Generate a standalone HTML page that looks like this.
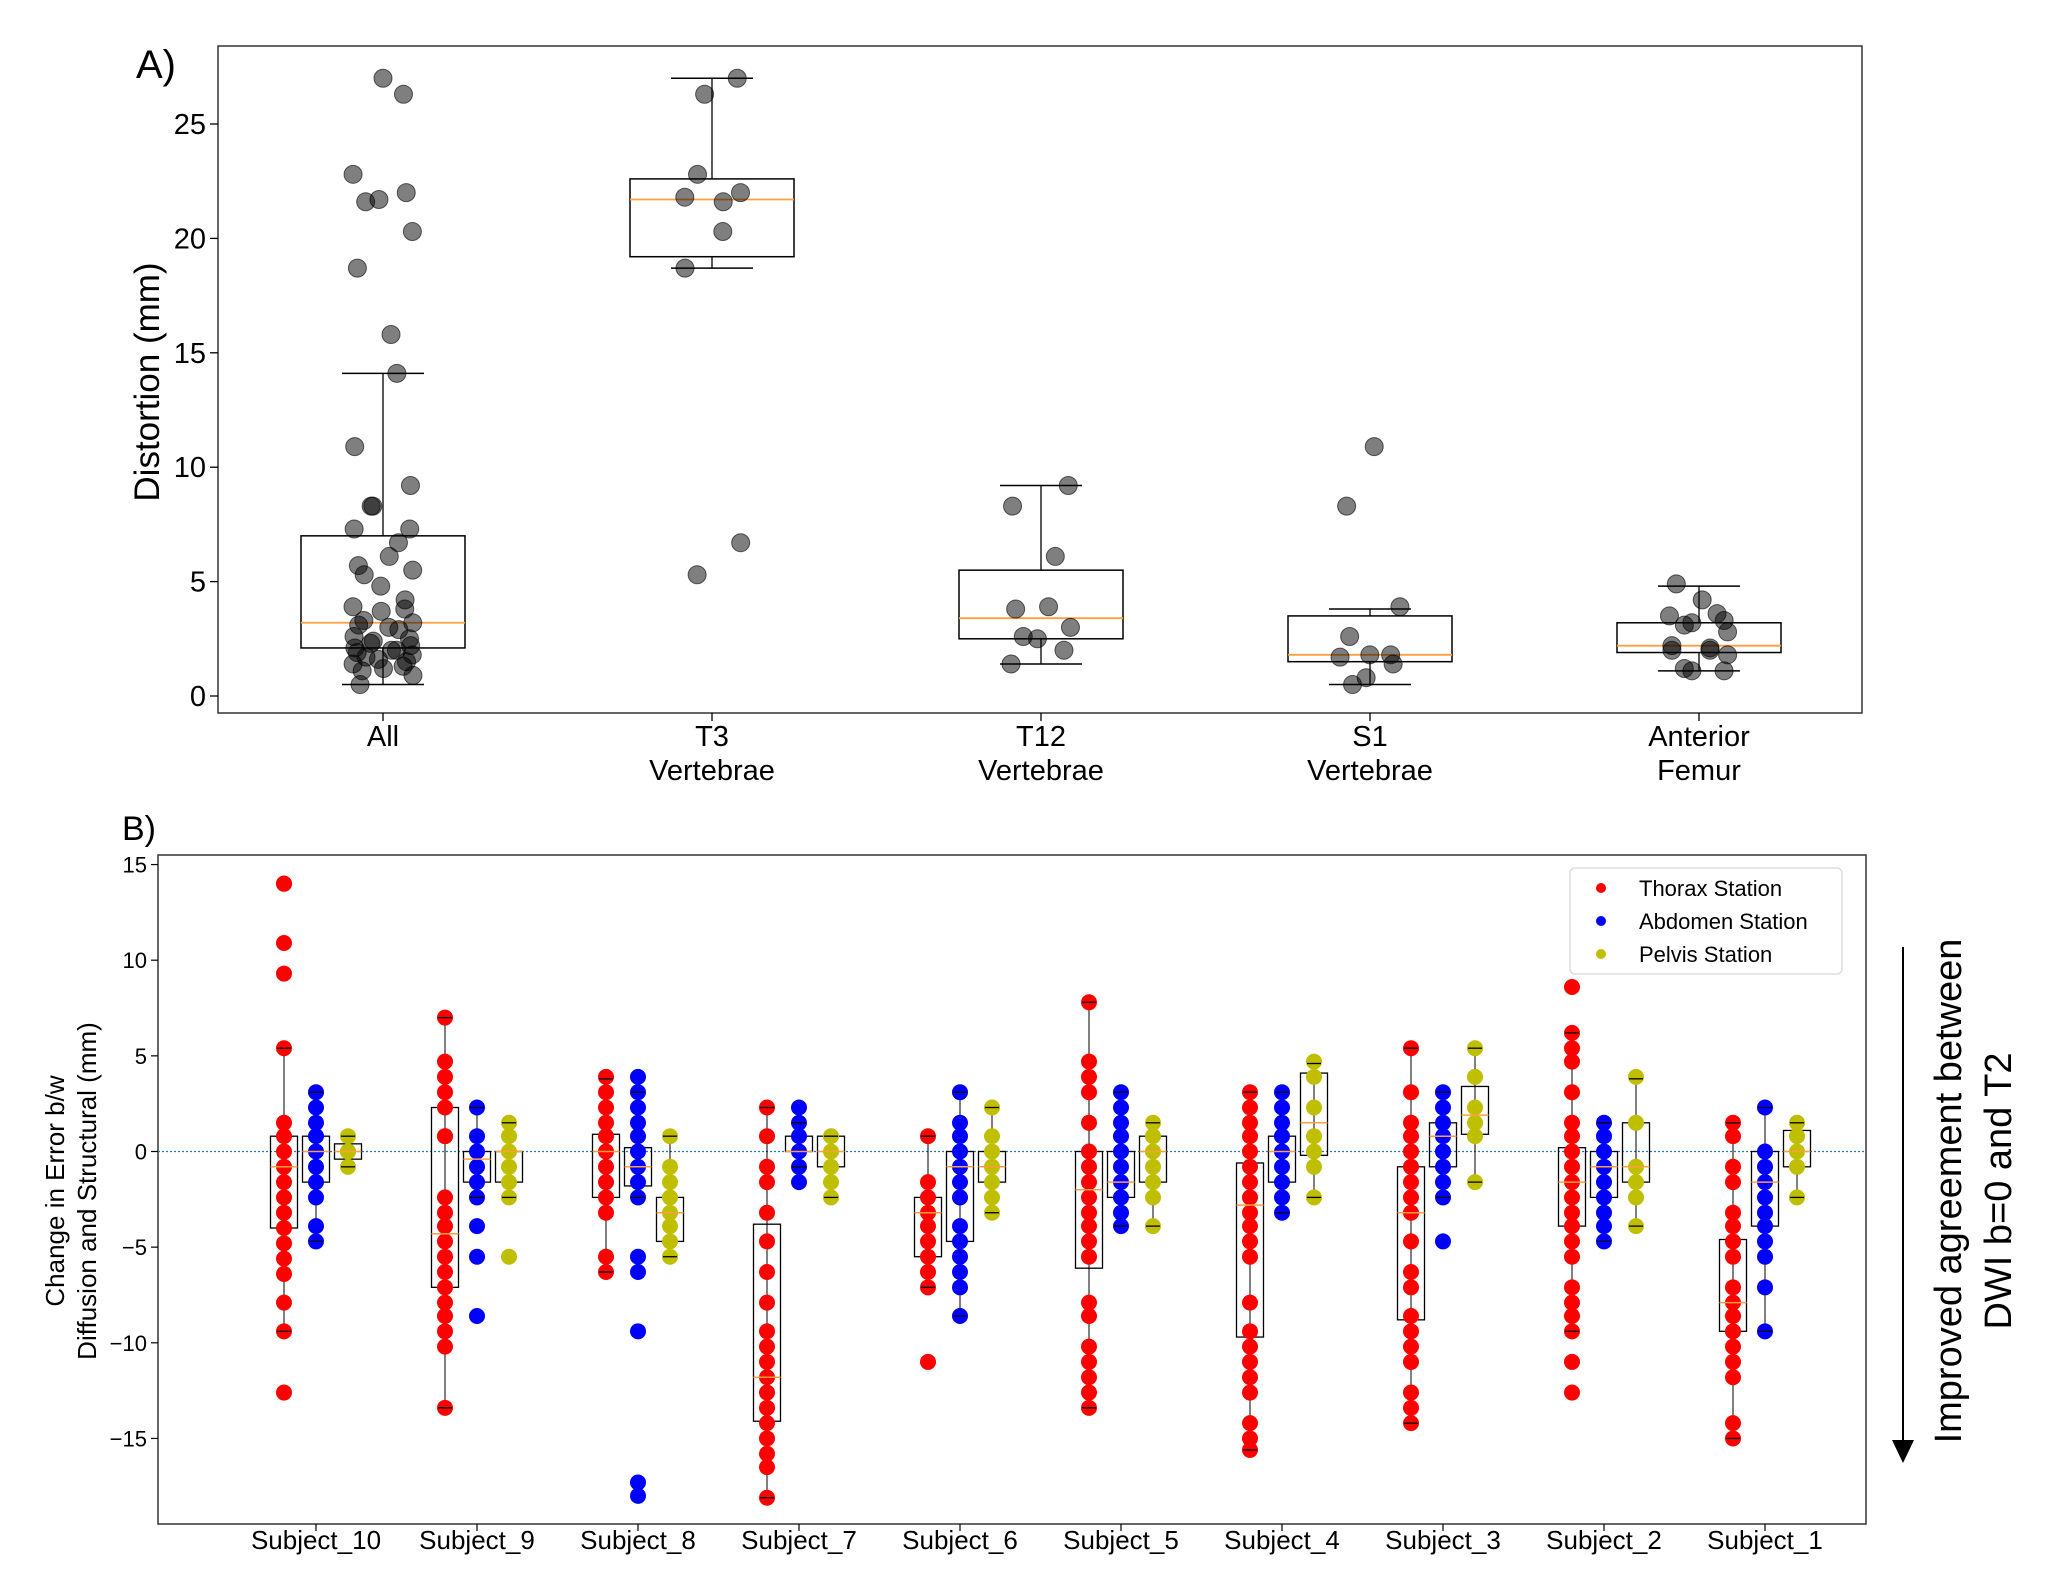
<!DOCTYPE html>
<html><head><meta charset="utf-8"><style>
html,body{margin:0;padding:0;background:#fff}
svg{display:block;font-family:"Liberation Sans","DejaVu Sans",sans-serif}
</style></head><body>
<svg id="fig" width="2062" height="1570" viewBox="0 0 2062 1570" xmlns="http://www.w3.org/2000/svg">
<g id="pa"></g>
<g id="pb"></g>
</svg>
<script>
// ---------- Panel A data ----------
const catsA = ["All","T3|Vertebrae","T12|Vertebrae","S1|Vertebrae","Anterior|Femur"];
const ticksA = [0,5,10,15,20,25];
const ptsAll = [27.0,26.3,22.8,22.0,21.7,21.6,20.3,18.7,15.8,14.1,10.9,9.2,8.3,8.3,7.3,7.3,6.7,6.1,5.7,5.5,5.3,4.8,4.2,3.9,3.8,3.7,3.3,3.2,3.1,3.0,2.9,2.6,2.5,2.4,2.3,2.2,2.1,2.0,2.0,1.9,1.8,1.7,1.6,1.5,1.4,1.3,1.2,1.1,0.9,0.5];
const ptsT3 = [27.0,26.3,22.8,22.0,21.8,21.6,20.3,18.7,6.7,5.3];
const ptsT12 = [9.2,8.3,6.1,3.9,3.8,3.0,2.6,2.5,2.0,1.4];
const ptsS1 = [10.9,8.3,3.9,2.6,1.8,1.8,1.7,1.4,0.8,0.5];
const ptsFemur = [4.9,4.2,3.6,3.5,3.3,3.2,3.1,2.8,2.2,2.1,2.0,2.0,1.8,1.2,1.1,1.1];
const boxAq1 = [2.1,19.2,2.5,1.5,1.9];
const boxAmed = [3.2,21.7,3.4,1.8,2.2];
const boxAq3 = [7.0,22.6,5.5,3.5,3.2];
const boxAlo = [0.5,18.7,1.4,0.5,1.1];
const boxAhi = [14.1,27.0,9.2,3.8,4.8];

// ---------- Panel B data ----------
const subjects = ["Subject_10","Subject_9","Subject_8","Subject_7","Subject_6","Subject_5","Subject_4","Subject_3","Subject_2","Subject_1"];
const stations = ["Thorax Station","Abdomen Station","Pelvis Station"];
const ticksB = [15,10,5,0,-5,-10,-15];
const thoraxPts = [
[14,14,10.9,9.3,5.4,1.5,0.8,0,-0.8,-1.6,-2.4,-3.2,-4,-4.8,-5.6,-6.4,-7.9,-9.4,-12.6],
[7,4.7,3.9,3.1,2.3,0.8,0.8,-2.4,-3.2,-3.9,-4.7,-5.5,-6.3,-7.1,-7.9,-8.6,-9.4,-10.2,-13.4],
[3.9,3.1,2.3,1.5,0.8,0,-0.8,-1.6,-2.4,-3.2,-5.5,-6.3],
[2.3,0.8,-0.8,-1.6,-3.2,-4.7,-6.3,-7.9,-9.4,-10.2,-11,-11.8,-12.6,-13.4,-14.2,-15,-15.8,-16.5,-18.1],
[0.8,-1.6,-2.4,-3.2,-3.9,-4.7,-5.5,-6.3,-7.1,-11],
[7.8,4.7,3.9,3.1,1.5,0,-0.8,-1.6,-2.4,-3.2,-3.9,-4.7,-5.5,-7.9,-8.6,-10.2,-11,-11.8,-12.6,-13.4],
[3.1,2.3,1.5,0.8,0,-0.8,-1.6,-2.4,-3.2,-3.9,-4.7,-5.5,-7.9,-9.4,-10.2,-11,-11.8,-12.6,-14.2,-15,-15.6],
[5.4,3.1,1.5,0.8,0,-0.8,-1.6,-2.4,-3.2,-4.7,-6.3,-7.1,-8.6,-9.4,-10.2,-11,-12.6,-13.4,-14.2],
[8.6,6.2,5.4,4.7,3.1,1.5,0.8,0,-0.8,-1.6,-2.4,-3.2,-3.9,-4.7,-5.5,-7.1,-7.9,-8.6,-9.4,-11,-12.6],
[1.5,0.8,-0.8,-1.6,-3.2,-3.9,-4.7,-5.5,-7.1,-7.9,-8.6,-9.4,-10.2,-11,-11.8,-14.2,-15]];
const abdomenPts = [
[3.1,2.3,1.5,0.8,0,-0.8,-1.6,-2.4,-3.9,-4.7],
[2.3,0.8,0,-0.8,-1.6,-2.4,-3.9,-5.5,-8.6],
[3.9,3.1,2.3,1.5,0.8,0,-0.8,-1.6,-2.4,-5.5,-6.3,-9.4,-17.3,-18],
[2.3,1.5,0.8,0,-0.8,-1.6],
[3.1,1.5,0.8,0,-0.8,-1.6,-2.4,-3.9,-4.7,-5.5,-6.3,-7.1,-8.6],
[3.1,2.3,1.5,0.8,0,-0.8,-1.6,-2.4,-3.2,-3.9],
[3.1,2.3,1.5,0.8,0,-0.8,-1.6,-2.4,-3.2],
[3.1,2.3,1.5,0.8,0,-0.8,-1.6,-2.4,-4.7],
[1.5,0.8,0,-0.8,-1.6,-2.4,-3.2,-3.9,-4.7],
[2.3,0,-0.8,-1.6,-2.4,-3.2,-3.9,-4.7,-5.5,-7.1,-9.4]];
const pelvisPts = [
[0.8,0,0,-0.8],
[1.5,0.8,0,-0.8,-1.6,-2.4,-5.5],
[0.8,-0.8,-1.6,-2.4,-3.2,-3.9,-4.7,-5.5],
[0.8,0,-0.8,-1.6,-2.4],
[2.3,0.8,0,-0.8,-1.6,-2.4,-3.2],
[1.5,0.8,0,-0.8,-1.6,-2.4,-3.9],
[4.7,3.9,2.3,0.8,0,-0.8,-2.4],
[5.4,3.9,2.3,1.5,0.8,-1.6],
[3.9,1.5,-0.8,-1.6,-2.4,-3.9],
[1.5,0.8,0,-0.8,-2.4]];
// box stats [q1, median, q3, whiskerLow, whiskerHigh]
const thoraxBox = [[-4,-0.8,0.8,-9.4,5.4],[-7.1,-4.3,2.3,-13.4,7],[-2.4,0,0.9,-6.3,3.8],[-14.1,-11.8,-3.8,-18.1,2.3],[-5.5,-3.2,-2.4,-7.1,0.8],[-6.1,-2,0,-13.4,7.8],[-9.7,-2.8,-0.6,-15.6,3.1],[-8.8,-3.2,-0.8,-14.2,5.4],[-3.9,-1.6,0.2,-9.4,6.2],[-9.4,-7.9,-4.6,-15,1.5]];
const abdomenBox = [[-1.6,0,0.8,-4.7,3.1],[-1.6,-0.4,0,-2.4,2.3],[-1.8,-0.8,0.2,-2.4,3.1],[0,0,0.8,-0.8,1.5],[-4.7,-0.8,0,-8.6,3.1],[-2.4,-1.6,0,-3.9,3.1],[-1.6,0,0.8,-3.2,3.1],[-0.8,0.8,1.5,-2.4,3.1],[-2.4,-0.8,0,-4.7,1.5],[-3.9,-1.6,0,-9.4,2.3]];
const pelvisBox = [[-0.4,0,0.4,-0.8,0.8],[-1.6,0,0,-2.4,1.5],[-4.7,-3.2,-2.4,-5.5,0.8],[-0.8,0,0.8,-2.4,0.8],[-1.6,-0.8,0,-3.2,2.3],[-1.6,0,0.8,-3.9,1.5],[-0.2,1.5,4.1,-2.4,4.6],[0.9,1.9,3.4,-1.6,5.4],[-1.6,-0.8,1.5,-3.9,3.8],[-0.8,0,1.1,-2.4,1.5]];

const NS='http://www.w3.org/2000/svg';
function mk(parent, tag, attrs, text){
  const e=document.createElementNS(NS,tag);
  for(const k in attrs) e.setAttribute(k,attrs[k]);
  if(text!==undefined) e.textContent=text;
  parent.appendChild(e); return e;
}

// ---------- Panel A ----------
const pa=document.getElementById('pa');
const A={l:218,r:1862,t:46,b:713};
const yA=v=>696-v*22.88;
const xA=i=>383+i*329;
let f=mk(pa,'rect',{x:A.l,y:A.t,width:A.r-A.l,height:A.b-A.t,fill:'none',stroke:'#333','stroke-width':1.5});


ticksA.forEach(t=>{
  const g=mk(pa,'g',{});
  
  
  mk(g,'line',{x1:A.l-8,x2:A.l,y1:yA(t),y2:yA(t),stroke:'#000','stroke-width':1.3});
  mk(g,'text',{x:A.l-12,y:yA(t)+10,'text-anchor':'end','font-size':29},String(t));
});
catsA.forEach((c,i)=>{
  const g=mk(pa,'g',{});
  
  
  mk(g,'line',{x1:xA(i),x2:xA(i),y1:A.b,y2:A.b+8,stroke:'#000','stroke-width':1.3});
  c.split('|').forEach((s,j)=>mk(g,'text',{x:xA(i),y:746+j*34,'text-anchor':'middle','font-size':29},s));
});
const ptsA=[ptsAll,ptsT3,ptsT12,ptsS1,ptsFemur];
ptsA.forEach((arr,i)=>{
  const x=xA(i), bw=164;
  const g=mk(pa,'g',{});
  
  
  mk(g,'line',{x1:x,x2:x,y1:yA(boxAlo[i]),y2:yA(boxAq1[i]),stroke:'#000','stroke-width':1.3});
  mk(g,'line',{x1:x,x2:x,y1:yA(boxAq3[i]),y2:yA(boxAhi[i]),stroke:'#000','stroke-width':1.3});
  mk(g,'line',{x1:x-41,x2:x+41,y1:yA(boxAlo[i]),y2:yA(boxAlo[i]),stroke:'#000','stroke-width':1.5});
  mk(g,'line',{x1:x-41,x2:x+41,y1:yA(boxAhi[i]),y2:yA(boxAhi[i]),stroke:'#000','stroke-width':1.5});
  mk(g,'rect',{x:x-bw/2,y:yA(boxAq3[i]),width:bw,height:yA(boxAq1[i])-yA(boxAq3[i]),fill:'none',stroke:'#000','stroke-width':1.5});
  mk(g,'line',{x1:x-bw/2,x2:x+bw/2,y1:yA(boxAmed[i]),y2:yA(boxAmed[i]),stroke:'#ff9f40','stroke-width':1.8});
  arr.forEach((v,k)=>{
    const jit=Math.sin(k*2.39+i)*30;
    const c=mk(g,'circle',{cx:x+jit,cy:yA(v),r:9,fill:'rgba(0,0,0,0.5)',stroke:'rgba(0,0,0,0.6)','stroke-width':1});
    
    
  });
});
mk(pa,'text',{x:136,y:78,'font-size':40},'A)');
mk(pa,'text',{x:0,y:0,'font-size':35,'text-anchor':'middle',transform:'translate(159,382) rotate(-90)'},'Distortion (mm)');

// ---------- Panel B ----------
const pb=document.getElementById('pb');
const B={l:158,r:1866,t:855,b:1524};
const yB=v=>1151.5-v*19.13;
const xB=i=>316+i*161;
const cols=['#ff0000','#0000ff','#bfbf00'];
f=mk(pb,'rect',{x:B.l,y:B.t,width:B.r-B.l,height:B.b-B.t,fill:'none',stroke:'#333','stroke-width':1.5});


mk(pb,'line',{x1:B.l,x2:B.r,y1:yB(0),y2:yB(0),stroke:'#1f77b4','stroke-width':1.2,'stroke-dasharray':'2 2'});
ticksB.forEach(t=>{
  const g=mk(pb,'g',{});
  
  
  mk(g,'line',{x1:B.l-7,x2:B.l,y1:yB(t),y2:yB(t),stroke:'#000','stroke-width':1.2});
  mk(g,'text',{x:B.l-11,y:yB(t)+8,'text-anchor':'end','font-size':22},t<0?'\u2212'+(-t):String(t));
});
subjects.forEach((s,i)=>{
  const g=mk(pb,'g',{});
  
  
  mk(g,'line',{x1:xB(i),x2:xB(i),y1:B.b,y2:B.b+7,stroke:'#000','stroke-width':1.2});
  mk(g,'text',{x:xB(i),y:1549,'text-anchor':'middle','font-size':26},s);
});
const allPts=[thoraxPts,abdomenPts,pelvisPts];
const allBox=[thoraxBox,abdomenBox,pelvisBox];
subjects.forEach((s,i)=>{
  [0,1,2].forEach(st=>{
    const x=xB(i)+(st-1)*32, bw=27, b=allBox[st][i];
    const g=mk(pb,'g',{});
    
    
    mk(g,'line',{x1:x,x2:x,y1:yB(b[3]),y2:yB(b[4]),stroke:'#000','stroke-width':1});
    mk(g,'rect',{x:x-bw/2,y:yB(b[2]),width:bw,height:Math.max(1,yB(b[0])-yB(b[2])),fill:'none',stroke:'#000','stroke-width':1.3});
    allPts[st][i].forEach(v=>{
      const c=mk(g,'circle',{cx:x,cy:yB(v),r:8,fill:cols[st]});
      
      
    });
    mk(g,'line',{x1:x-bw/2,x2:x+bw/2,y1:yB(b[1]),y2:yB(b[1]),stroke:'#ff9f40','stroke-width':1.5});
    mk(g,'line',{x1:x-7,x2:x+7,y1:yB(b[3]),y2:yB(b[3]),stroke:'#000','stroke-width':1.3});
    mk(g,'line',{x1:x-7,x2:x+7,y1:yB(b[4]),y2:yB(b[4]),stroke:'#000','stroke-width':1.3});
  });
});
// legend
const lg=mk(pb,'g',{});


mk(lg,'rect',{x:1570,y:868,width:272,height:106,rx:5,fill:'#fff',stroke:'#ddd','stroke-width':1.5});
stations.forEach((n,k)=>{
  const e=mk(lg,'g',{});
  
  
  mk(e,'circle',{cx:1601,cy:888+k*33,r:5,fill:cols[k]});
  mk(e,'text',{x:1639,y:896+k*33,'font-size':22},n);
});
mk(pb,'text',{x:122,y:840,'font-size':34},'B)');
const yl=mk(pb,'text',{'font-size':26,'text-anchor':'middle',transform:'translate(64,1191) rotate(-90)'});
mk(yl,'tspan',{x:0,y:0},'Change in Error b/w');
mk(yl,'tspan',{x:0,y:32},'Diffusion and Structural (mm)');
// annotation arrow
const an=mk(pb,'g',{});


mk(an,'line',{x1:1903,x2:1903,y1:947,y2:1440,stroke:'#000','stroke-width':2});
mk(an,'polygon',{points:'1892,1440 1914,1440 1903,1463',fill:'#000'});
const at=mk(an,'text',{'font-size':38,'text-anchor':'middle',transform:'translate(1973,1191) rotate(-90)'});
mk(at,'tspan',{x:0,y:-12},'Improved agreement between');
mk(at,'tspan',{x:0,y:38},'DWI b=0 and T2');
</script>
</body></html>
